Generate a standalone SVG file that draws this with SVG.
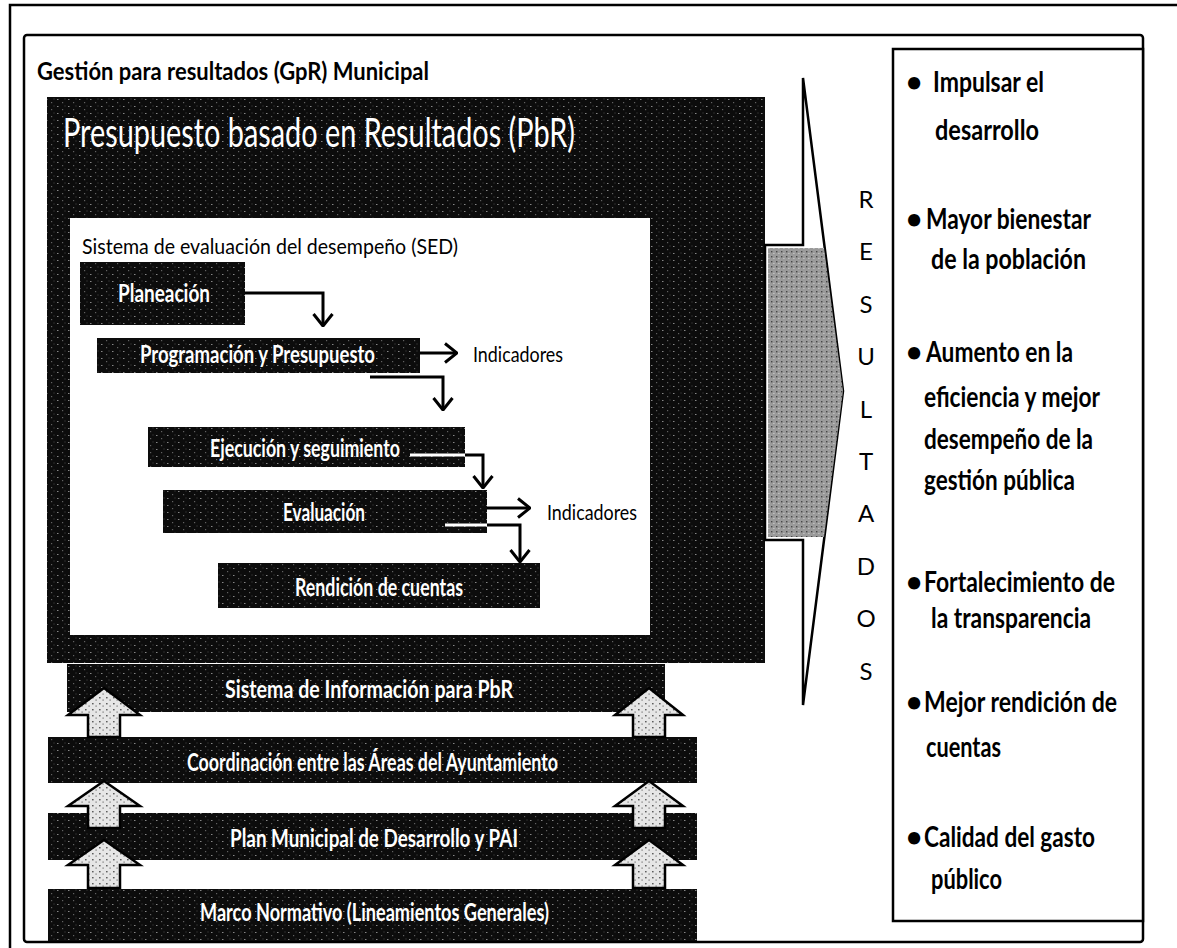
<svg xmlns="http://www.w3.org/2000/svg" width="1177" height="948" viewBox="0 0 1177 948">
<defs>
<pattern id="dk" width="11" height="7" patternUnits="userSpaceOnUse">
<rect width="11" height="7" fill="#0c0c0c"/>
<rect x="2" y="1" width="1.5" height="1" fill="#fff" opacity="0.5"/>
<rect x="7" y="4" width="1.2" height="1.2" fill="#fff" opacity="0.35"/>
<rect x="9.5" y="0.5" width="1" height="1" fill="#fff" opacity="0.25"/>
</pattern>
<pattern id="lt" width="7" height="6" patternUnits="userSpaceOnUse">
<rect width="7" height="6" fill="#e6e6e6"/>
<rect x="1" y="1" width="1.6" height="1.4" fill="#222" opacity="0.7"/>
<rect x="4.5" y="3.5" width="1.2" height="1.2" fill="#222" opacity="0.6"/>
</pattern>
<pattern id="gr" width="5" height="5" patternUnits="userSpaceOnUse">
<rect width="5" height="5" fill="#9a9a9a"/>
<rect x="1" y="1" width="1.4" height="1.4" fill="#222" opacity="0.7"/>
<rect x="3.4" y="3" width="1" height="1" fill="#fff" opacity="0.6"/>
</pattern>
<marker id="chev" viewBox="0 0 14 22" refX="13" refY="11" markerWidth="14" markerHeight="22" markerUnits="userSpaceOnUse" orient="auto">
<path d="M1,1.5 L13,11 L1,20.5" fill="none" stroke="#000" stroke-width="3"/>
</marker>
</defs>
<style>
text{font-family:Lato,"Liberation Sans",sans-serif;}
.frame{fill:none;stroke:#000;stroke-width:2.5;}
.dark{fill:url(#dk);}
.lbl{font-size:24px;fill:#fff;font-weight:bold;}
.rp{font-size:28px;fill:#000;font-weight:bold;}
.res{font-size:24px;fill:#000;text-anchor:middle;}
.conn{fill:none;stroke:#000;stroke-width:3;}
.connw{fill:none;stroke:#fff;stroke-width:3;}
.up{fill:url(#lt);stroke:#000;stroke-width:2.5;stroke-linejoin:miter;}
</style>
<rect width="1177" height="948" fill="#fff"/>
<g id="outer-frame">
<rect class="frame" x="10" y="5" width="1180" height="950"/>
</g>
<g id="gpr-frame">
<rect class="frame" x="24" y="35" width="1119" height="907" rx="3"/>
<text x="37" y="80" font-size="24" font-weight="bold" textLength="392" lengthAdjust="spacingAndGlyphs">Gestión para resultados (GpR) Municipal</text>
</g>
<g id="pbr">
<rect class="dark" x="47" y="97" width="718" height="566"/>
<text x="63" y="147" font-size="40" fill="#fff" textLength="512" lengthAdjust="spacingAndGlyphs">Presupuesto basado en Resultados (PbR)</text>
</g>
<g id="sed">
<rect x="70" y="218" width="580" height="417" fill="#fff"/>
<text x="82" y="254" font-size="22" textLength="376" lengthAdjust="spacingAndGlyphs">Sistema de evaluación del desempeño (SED)</text>
</g>
<g id="planeacion">
<rect class="dark" x="80" y="262" width="165" height="63"/>
<text class="lbl" x="118" y="302" textLength="92" lengthAdjust="spacingAndGlyphs">Planeación</text>
</g>
<g id="programacion">
<rect class="dark" x="97" y="338" width="323" height="35"/>
<text class="lbl" x="140" y="363" textLength="235" lengthAdjust="spacingAndGlyphs">Programación y Presupuesto</text>
</g>
<g id="ejecucion">
<rect class="dark" x="148" y="427" width="317" height="40"/>
<text class="lbl" x="210" y="457" textLength="190" lengthAdjust="spacingAndGlyphs">Ejecución y seguimiento</text>
</g>
<g id="evaluacion">
<rect class="dark" x="163" y="490" width="324" height="43"/>
<text class="lbl" x="283" y="521" textLength="82" lengthAdjust="spacingAndGlyphs">Evaluación</text>
</g>
<g id="rendicion">
<rect class="dark" x="218" y="563" width="322" height="45"/>
<text class="lbl" x="295" y="596" textLength="168" lengthAdjust="spacingAndGlyphs">Rendición de cuentas</text>
</g>
<g id="indicadores-1">
<text x="473" y="362" font-size="22" textLength="90" lengthAdjust="spacingAndGlyphs">Indicadores</text>
</g>
<g id="indicadores-2">
<text x="547" y="520" font-size="22" textLength="90" lengthAdjust="spacingAndGlyphs">Indicadores</text>
</g>
<g id="sistema-informacion">
<rect class="dark" x="67" y="664" width="598" height="48"/>
<text class="lbl" x="225" y="698" textLength="288" lengthAdjust="spacingAndGlyphs">Sistema de Información para PbR</text>
</g>
<g id="coordinacion">
<rect class="dark" x="48" y="737" width="649" height="46"/>
<text class="lbl" x="187" y="771" font-size="22" textLength="371" lengthAdjust="spacingAndGlyphs">Coordinación entre las Áreas del Ayuntamiento</text>
</g>
<g id="plan-municipal">
<rect class="dark" x="48" y="813" width="649" height="47"/>
<text class="lbl" x="230" y="847" textLength="288" lengthAdjust="spacingAndGlyphs">Plan Municipal de Desarrollo y PAI</text>
</g>
<g id="marco-normativo">
<rect class="dark" x="48" y="889" width="649" height="52"/>
<text class="lbl" x="200" y="921" textLength="349" lengthAdjust="spacingAndGlyphs">Marco Normativo (Lineamientos Generales)</text>
</g>
<g id="resultados-arrow">
<path d="M803,78 L843,391 L803,705 L803,540 L765,540 L765,245 L803,245 Z" fill="#fff" stroke="#000" stroke-width="2.5" stroke-linejoin="miter"/>
<path d="M768,248 L824,248 L843,391 L824,537 L768,537 Z" fill="url(#gr)"/>
<text class="res" x="866" y="208">R</text>
<text class="res" x="866" y="260">E</text>
<text class="res" x="866" y="313">S</text>
<text class="res" x="866" y="365">U</text>
<text class="res" x="866" y="418">L</text>
<text class="res" x="866" y="470">T</text>
<text class="res" x="866" y="522">A</text>
<text class="res" x="866" y="575">D</text>
<text class="res" x="866" y="627">O</text>
<text class="res" x="866" y="680">S</text>
</g>
<g id="resultados-panel">
<rect x="893" y="49" width="250" height="872" fill="#fff" stroke="#000" stroke-width="2.5"/>
<text class="rp" x="906" y="92">•</text>
<text class="rp" x="933" y="92" textLength="111" lengthAdjust="spacingAndGlyphs">Impulsar el</text>
<text class="rp" x="935" y="140" textLength="104" lengthAdjust="spacingAndGlyphs">desarrollo</text>
<text class="rp" x="906" y="229">•</text>
<text class="rp" x="926" y="229" textLength="165" lengthAdjust="spacingAndGlyphs">Mayor bienestar</text>
<text class="rp" x="931" y="269" textLength="155" lengthAdjust="spacingAndGlyphs">de la población</text>
<text class="rp" x="906" y="362">•</text>
<text class="rp" x="926" y="362" textLength="147" lengthAdjust="spacingAndGlyphs">Aumento en la</text>
<text class="rp" x="924" y="407" textLength="176" lengthAdjust="spacingAndGlyphs">eficiencia y mejor</text>
<text class="rp" x="924" y="449" textLength="169" lengthAdjust="spacingAndGlyphs">desempeño de la</text>
<text class="rp" x="924" y="490" textLength="151" lengthAdjust="spacingAndGlyphs">gestión pública</text>
<text class="rp" x="906" y="592">•</text>
<text class="rp" x="924" y="592" textLength="191" lengthAdjust="spacingAndGlyphs">Fortalecimiento de</text>
<text class="rp" x="931" y="628" textLength="160" lengthAdjust="spacingAndGlyphs">la transparencia</text>
<text class="rp" x="906" y="712">•</text>
<text class="rp" x="924" y="712" textLength="193" lengthAdjust="spacingAndGlyphs">Mejor rendición de</text>
<text class="rp" x="926" y="757" textLength="75" lengthAdjust="spacingAndGlyphs">cuentas</text>
<text class="rp" x="906" y="847">•</text>
<text class="rp" x="924" y="847" textLength="171" lengthAdjust="spacingAndGlyphs">Calidad del gasto</text>
<text class="rp" x="931" y="889" textLength="71" lengthAdjust="spacingAndGlyphs">público</text>
</g>
<g id="connectors">
<path class="conn" d="M245,293 H323 V326" marker-end="url(#chev)"/>
<path class="conn" d="M420,353 H457" marker-end="url(#chev)"/>
<path class="conn" d="M370,377 H443 V410" marker-end="url(#chev)"/>
<path class="connw" d="M410,455 H465"/>
<path class="conn" d="M465,455 H483 V488" marker-end="url(#chev)"/>
<path class="conn" d="M487,508 H530" marker-end="url(#chev)"/>
<path class="connw" d="M445,525 H487"/>
<path class="conn" d="M487,525 H520 V562" marker-end="url(#chev)"/>
<path class="up" d="M104,688 L140,715 L120,715 L120,737 L88,737 L88,715 L68,715 Z"/>
<path class="up" d="M649,688 L683,715 L665,715 L665,737 L633,737 L633,715 L615,715 Z"/>
<path class="up" d="M104,781 L140,806 L120,806 L120,828 L88,828 L88,806 L68,806 Z"/>
<path class="up" d="M649,781 L683,806 L665,806 L665,828 L633,828 L633,806 L615,806 Z"/>
<path class="up" d="M104,840 L140,865 L120,865 L120,888 L88,888 L88,865 L68,865 Z"/>
<path class="up" d="M649,840 L683,865 L665,865 L665,888 L633,888 L633,865 L615,865 Z"/>
</g>
</svg>
